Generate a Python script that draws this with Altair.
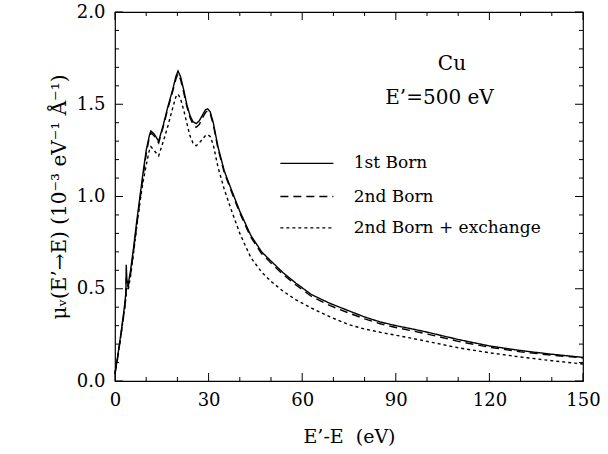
import altair as alt
import pandas as pd

# ---- data ----
energy_loss = [0, 1, 2, 3, 3.5, 3.6, 3.8, 4.2, 5, 6, 7, 8, 9, 10, 11, 11.5, 12.5, 14, 15.5, 17,
               18.5, 19.5, 20.2, 21, 22, 23, 24, 25, 26, 27, 28, 29, 29.7, 30.5, 31.5, 33, 35, 37,
               40, 43.5, 47, 50, 54, 58, 63, 69, 75, 80, 85, 90, 95, 100, 110, 120, 130, 140, 150]
first_born = [0.04, 0.15, 0.27, 0.40, 0.48, 0.63, 0.55, 0.52, 0.60, 0.73, 0.87, 1.00, 1.13, 1.25,
              1.33, 1.355, 1.34, 1.30, 1.39, 1.49, 1.58, 1.65, 1.68, 1.65, 1.58, 1.50, 1.44, 1.405,
              1.395, 1.41, 1.44, 1.47, 1.475, 1.46, 1.40, 1.27, 1.14, 1.05, 0.92, 0.79, 0.70, 0.65,
              0.585, 0.53, 0.468, 0.42, 0.38, 0.347, 0.32, 0.30, 0.283, 0.265, 0.225, 0.19, 0.165,
              0.145, 0.128]
second_born = [0.04, 0.14, 0.26, 0.38, 0.46, 0.56, 0.53, 0.51, 0.58, 0.71, 0.85, 0.98, 1.11, 1.23,
               1.32, 1.345, 1.33, 1.29, 1.38, 1.48, 1.57, 1.635, 1.665, 1.635, 1.565, 1.49, 1.43,
               1.39, 1.375, 1.39, 1.425, 1.455, 1.465, 1.45, 1.39, 1.26, 1.13, 1.04, 0.91, 0.78,
               0.69, 0.64, 0.575, 0.52, 0.458, 0.408, 0.368, 0.337, 0.31, 0.29, 0.273, 0.255, 0.215,
               0.183, 0.158, 0.14, 0.125]
second_born_exch = [0.04, 0.14, 0.26, 0.38, 0.45, 0.50, 0.50, 0.49, 0.57, 0.70, 0.84, 0.97, 1.08,
                    1.17, 1.25, 1.27, 1.25, 1.22, 1.30, 1.385, 1.48, 1.54, 1.555, 1.53, 1.47, 1.40,
                    1.33, 1.29, 1.275, 1.29, 1.31, 1.33, 1.335, 1.325, 1.28, 1.16, 1.04, 0.94, 0.80,
                    0.67, 0.59, 0.54, 0.485, 0.44, 0.395, 0.347, 0.305, 0.282, 0.264, 0.248, 0.232,
                    0.215, 0.18, 0.153, 0.13, 0.11, 0.092]

series_names = ["1st Born", "2nd Born", "2nd Born + exchange"]
x_major = [0, 30, 60, 90, 120, 150]
x_minor = [10, 20, 40, 50, 70, 80, 100, 110, 130, 140]
y_major = [0.0, 0.5, 1.0, 1.5, 2.0]
y_minor = [0.1, 0.2, 0.3, 0.4, 0.6, 0.7, 0.8, 0.9, 1.1, 1.2, 1.3, 1.4, 1.6, 1.7, 1.8, 1.9]

# legend layout (in data units)
legend_y = [1.18, 1.0, 0.83]
legend_x1, legend_x2, legend_tx = 53.0, 70.0, 76.5
notes = ["Cu", "E\u2019=500 eV"]
notes_x = [108.0, 104.0]
notes_y = [1.72, 1.535]

FONT = "DejaVu Serif"
W, H = 468, 369
X_TITLE = "E\u2019-E \u00a0(eV)"
Y_TITLE = "\u03bc\u1d65(E\u2019\u2192E) (10\u207b\u00b3 eV\u207b\u00b9 \u00c5\u207b\u00b9)"

rows = []
for name, yv_list in zip(series_names, [first_born, second_born, second_born_exch]):
    for xv, yv in zip(energy_loss, yv_list):
        rows.append({"x": xv, "y": yv, "series": name})
df = pd.DataFrame(rows)

xs = alt.Scale(domain=[0, 150], nice=False, zero=False)
ys = alt.Scale(domain=[0, 2], nice=False, zero=False)
dash = alt.Scale(domain=series_names, range=[[1, 0], [8, 5], [3, 3]])

X_AXIS = alt.Axis(values=x_major, ticks=False, grid=False, domain=False,
                  labelFont=FONT, labelFontSize=18, labelPadding=10, titleFont=FONT,
                  titleFontSize=19, titleFontWeight="normal", titlePadding=18,
                  labelColor="black", titleColor="black", labelFlush=False)
Y_AXIS = alt.Axis(values=y_major, format=".1f", ticks=False, grid=False, domain=False,
                  labelFont=FONT, labelFontSize=18, labelPadding=10, titleFont=FONT,
                  titleFontSize=20, titleFontWeight="normal", titleX=-46,
                  titleBaseline="bottom",
                  labelColor="black", titleColor="black", labelFlush=False)

def X(field):
    return alt.X(field, scale=xs, axis=X_AXIS, title=X_TITLE)

def Y(field):
    return alt.Y(field, scale=ys, axis=Y_AXIS, title=Y_TITLE)

lines = alt.Chart(df).mark_line(color="black", strokeWidth=1.4).encode(
    x=X("x:Q"), y=Y("y:Q"),
    strokeDash=alt.StrokeDash("series:N", scale=dash, legend=None),
    detail="series:N",
)

def tick_df(vals):
    return pd.DataFrame({"v": vals})

def xticks(vals, length):
    base = alt.Chart(tick_df(vals)).mark_rule(color="black", strokeWidth=1)
    bottom = base.encode(x=X("v:Q"), y=alt.value(H), y2=alt.value(H - length))
    top = base.encode(x=X("v:Q"), y=alt.value(0), y2=alt.value(length))
    return [bottom, top]

def yticks(vals, length):
    base = alt.Chart(tick_df(vals)).mark_rule(color="black", strokeWidth=1)
    left = base.encode(y=Y("v:Q"), x=alt.value(0), x2=alt.value(length))
    right = base.encode(y=Y("v:Q"), x=alt.value(W), x2=alt.value(W - length))
    return [left, right]

ticks = xticks(x_major, 8) + xticks(x_minor, 4) + yticks(y_major, 8) + yticks(y_minor, 4)

leg_df = pd.DataFrame({"series": series_names, "y": legend_y,
                       "x1": [legend_x1] * 3, "x2": [legend_x2] * 3, "tx": [legend_tx] * 3})
leg_lines = alt.Chart(leg_df).mark_rule(color="black", strokeWidth=1.3).encode(
    x=X("x1:Q"), x2="x2:Q", y=Y("y:Q"),
    strokeDash=alt.StrokeDash("series:N", scale=dash, legend=None),
)
leg_text = alt.Chart(leg_df).mark_text(align="left", baseline="middle", font=FONT,
                                       fontSize=17, color="black").encode(
    x=X("tx:Q"), y=Y("y:Q"), text="series:N")

notes_df = pd.DataFrame({"t": notes, "x": notes_x, "y": notes_y})
note_text = alt.Chart(notes_df).mark_text(align="center", baseline="middle", font=FONT,
                                          fontSize=20, color="black").encode(
    x=X("x:Q"), y=Y("y:Q"), text="t:N")

chart = alt.layer(lines, *ticks, leg_lines, leg_text, note_text).properties(
    width=W, height=H,
    autosize=alt.AutoSizeParams(type="none"),
    padding={"left": 115, "top": 12, "right": 25, "bottom": 73},
    background="white",
).configure_view(stroke="black", strokeWidth=1.2)

chart.save("out.html", embed_options={"renderer": "svg", "actions": False})
